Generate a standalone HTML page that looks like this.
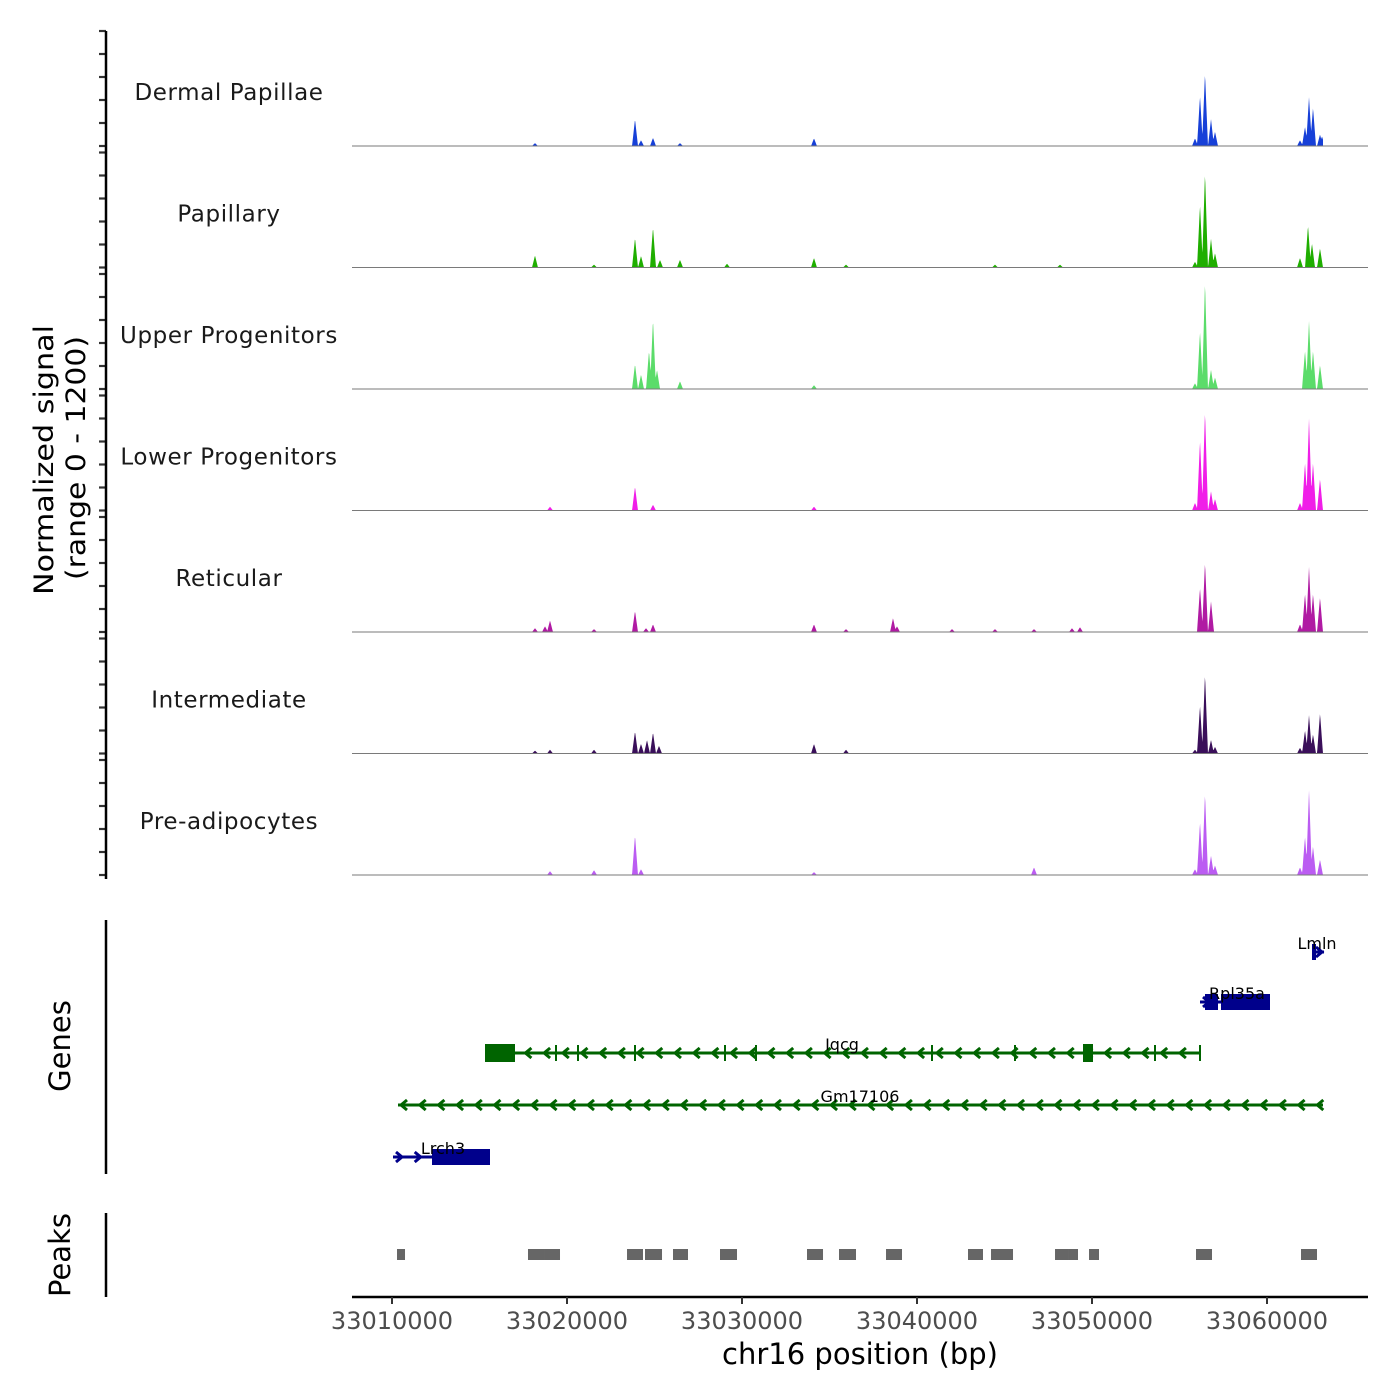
<!DOCTYPE html>
<html><head><meta charset="utf-8"><style>
html,body{margin:0;padding:0;background:#fff;}
svg{display:block;font-family:"DejaVu Sans","Liberation Sans",sans-serif;}
</style></head><body>
<svg id="chart" width="1400" height="1400" viewBox="0 0 1400 1400" xmlns="http://www.w3.org/2000/svg">
<g id="tracks"></g>
<g id="yaxis"></g>
<g id="genes"></g>
<g id="peaks"></g>
<g id="xaxis"></g>
<text transform="translate(53,460) rotate(-90)" text-anchor="middle" font-size="27" fill="#000" textLength="270" lengthAdjust="spacingAndGlyphs">Normalized signal</text>
<text transform="translate(85,458) rotate(-90)" text-anchor="middle" font-size="27" fill="#000" textLength="244" lengthAdjust="spacingAndGlyphs">(range 0 - 1200)</text>
<text transform="translate(70,1046) rotate(-90)" text-anchor="middle" font-size="29" fill="#000">Genes</text>
<text transform="translate(70,1255) rotate(-90)" text-anchor="middle" font-size="29" fill="#000">Peaks</text>
<text x="860" y="1364" text-anchor="middle" font-size="29" fill="#000">chr16 position (bp)</text>
</svg>
<script>
const NS="http://www.w3.org/2000/svg";
const trackNames=["Dermal Papillae","Papillary","Upper Progenitors","Lower Progenitors","Reticular","Intermediate","Pre-adipocytes"];
const trackColors=["#1740d8","#1fae00","#5bdc6a","#f01ee8","#b01aa3","#3a0f5a","#bb5cf2"];
const yMax=1200;
const xTicks=[33010000,33020000,33030000,33040000,33050000,33060000];
const dpPos=[33018170,33023886,33024229,33024914,33026457,33034114,33055886,33056171,33056457,33056800,33057029,33061886,33062171,33062400,33062629,33063029,33063143];
const dpVal=[30,280,60,85,30,80,80,520,760,280,150,60,200,510,400,120,100];
const paPos=[33018170,33021543,33023886,33024229,33024914,33025314,33026457,33029143,33034114,33035943,33044457,33048171,33055886,33056171,33056457,33056800,33057029,33061886,33062343,33062571,33063029];
const paVal=[125,30,310,120,420,80,80,40,100,30,30,30,60,650,990,300,150,100,440,250,200];
const upPos=[33023886,33024229,33024686,33024914,33025143,33026457,33034114,33055886,33056171,33056457,33056800,33057029,33062171,33062400,33062629,33063029];
const upVal=[260,150,400,730,200,80,40,60,600,1120,200,120,400,710,400,250];
const loPos=[33019029,33023886,33024914,33034114,33055886,33056171,33056457,33056800,33057029,33061886,33062171,33062400,33062629,33063029];
const loVal=[40,250,60,40,80,730,1040,200,120,80,500,960,500,330];
const rePos=[33018171,33018743,33019029,33021543,33023886,33024514,33024914,33034114,33035943,33038629,33038857,33042000,33044457,33046686,33048857,33049314,33056171,33056457,33056800,33061886,33062171,33062400,33062629,33063029];
const reVal=[40,60,120,30,220,40,80,80,30,145,60,30,30,30,40,50,460,730,320,80,400,680,400,360];
const inPos=[33018171,33019029,33021543,33023886,33024229,33024571,33024914,33025257,33034114,33035943,33055886,33056171,33056457,33056800,33057029,33061886,33062171,33062400,33062629,33063029];
const inVal=[30,40,40,230,100,140,220,80,100,40,40,500,830,140,70,60,240,400,200,420];
const prPos=[33019029,33021543,33023886,33024229,33034114,33046686,33055886,33056171,33056457,33056800,33057029,33061886,33062171,33062400,33062629,33063029];
const prVal=[40,50,415,60,30,80,60,550,855,200,100,80,400,885,300,160];
const trackPos=[dpPos,paPos,upPos,loPos,rePos,inPos,prPos];
const trackVal=[dpVal,paVal,upVal,loVal,reVal,inVal,prVal];
const peakStart=[33010286,33017771,33018686,33023429,33024457,33026057,33028743,33033714,33035543,33038229,33042914,33044229,33044914,33047886,33048629,33049829,33055943,33061943];
const peakEnd=[33010743,33018686,33019600,33024343,33025429,33026914,33029714,33034629,33036514,33039143,33043771,33044914,33045486,33048629,33049200,33050400,33056857,33062857];

const X0=352,X1=1368,bp0=33007714,bp1=33065771;
function xs(bp){return X0+(bp-bp0)/(bp1-bp0)*(X1-X0);}
function el(tag,attrs,parent){const e=document.createElementNS(NS,tag);for(const k in attrs)e.setAttribute(k,attrs[k]);parent.appendChild(e);return e;}

const tracks=document.getElementById('tracks');
const yaxis=document.getElementById('yaxis');
const panelH=121.5, top0=31, axisH=115;
const hw=170;
for(let i=0;i<7;i++){
  const top=top0+i*panelH, base=top+axisH;
  const g=el('g',{},tracks);
  
  
  const pos=trackPos[i], val=trackVal[i];
  let d='M'+X0+','+base;
  const startBp=33010000, endBp=33063200;
  d+=' L'+xs(startBp).toFixed(1)+','+base;
  for(let b=startBp;b<=endBp;b+=25){
    let v=0;
    for(let k=0;k<pos.length;k++){const dd=Math.abs(b-pos[k]);if(dd<hw){const t=val[k]*(1-dd/hw);if(t>v)v=t;}}
    d+=' L'+xs(b).toFixed(2)+','+(base-v/yMax*axisH).toFixed(2);
  }
  d+=' L'+xs(endBp).toFixed(1)+','+base+' Z';
  const p=el('path',{d:d,fill:trackColors[i],stroke:'none'},g);
  
  
  const bl=el('line',{x1:X0,x2:X1,y1:base,y2:base,stroke:'#7a7a7a','stroke-width':1},g);
  
  
  const lab=el('text',{x:229,y:top+69,'text-anchor':'middle','font-size':23,fill:'#1a1a1a','letter-spacing':'0.6'},g);
  lab.textContent=trackNames[i];
  
  
  for(let k=0;k<=5;k++){
    const ty=top+k*axisH/5;
    const tk=el('line',{x1:99,x2:106,y1:ty,y2:ty,stroke:'#333','stroke-width':2.2},yaxis);
    
    
  }
}
const yl=el('line',{x1:106,x2:106,y1:31,y2:879,stroke:'#000','stroke-width':2.5},yaxis);



// genes
const genes=document.getElementById('genes');
const gl=el('line',{x1:106,x2:106,y1:920,y2:1174,stroke:'#000','stroke-width':2.5},genes);


const blue='#00008b', green='#006400';
function gene(name,y,x1,x2,col,dir,exons,marks,lx){
  const g=el('g',{},genes);
  
  
  el('line',{x1:x1,x2:x2,y1:y,y2:y,stroke:col,'stroke-width':3},g);
  const step=18.7;
  if(dir<0){for(let x=x1+3;x<x2-4;x+=step){el('path',{d:`M${x+6},${y-5} L${x},${y} L${x+6},${y+5}`,fill:'none',stroke:col,'stroke-width':3},g);}}
  else{for(let x=x1+3;x<x2-4;x+=step){el('path',{d:`M${x},${y-5} L${x+6},${y} L${x},${y+5}`,fill:'none',stroke:col,'stroke-width':3},g);}}
  exons.forEach(e=>el('rect',{x:e[0],y:y-(e[2]||8),width:e[1]-e[0],height:2*(e[2]||8),fill:col},g));
  marks.forEach(m=>el('line',{x1:m,x2:m,y1:y-8,y2:y+8,stroke:col,'stroke-width':2},g));
  const t=el('text',{x:lx,y:y-3,'text-anchor':'middle','font-size':16,fill:'#000'},g);
  t.textContent=name;
}
gene('Lmln',952,1313,1324,blue,1,[[1312,1316,8]],[],1317);
gene('Rpl35a',1002,1200,1270,blue,1,[[1205,1218,8],[1221,1270,8]],[],1237);
gene('Iqcg',1053,485,1200,green,-1,[[485,515,9],[1083,1093,9]],[556,578,635,725,756,932,1015,1155,1200],842);
gene('Gm17106',1105,398,1323,green,-1,[],[],860);
gene('Lrch3',1157,393,490,blue,1,[[432,490,8]],[],443);

// peaks
const peaks=document.getElementById('peaks');
const pl=el('line',{x1:106,x2:106,y1:1213,y2:1297,stroke:'#000','stroke-width':2.5},peaks);


for(let i=0;i<peakStart.length;i++){
  const r=el('rect',{x:xs(peakStart[i]),y:1249,width:xs(peakEnd[i])-xs(peakStart[i]),height:11,fill:'#666'},peaks);
  
  
}

// x axis
const xa=document.getElementById('xaxis');
const xl=el('line',{x1:X0,x2:X1,y1:1297,y2:1297,stroke:'#000','stroke-width':2.5},xa);


xTicks.forEach(t=>{
  const x=xs(t);
  const tk=el('line',{x1:x,x2:x,y1:1297,y2:1304,stroke:'#333','stroke-width':2},xa);
  
  
  const lb=el('text',{x:x,y:1329,'text-anchor':'middle','font-size':24,fill:'#4d4d4d'},xa);
  lb.textContent=t;
  
  
});
</script>
</body></html>
